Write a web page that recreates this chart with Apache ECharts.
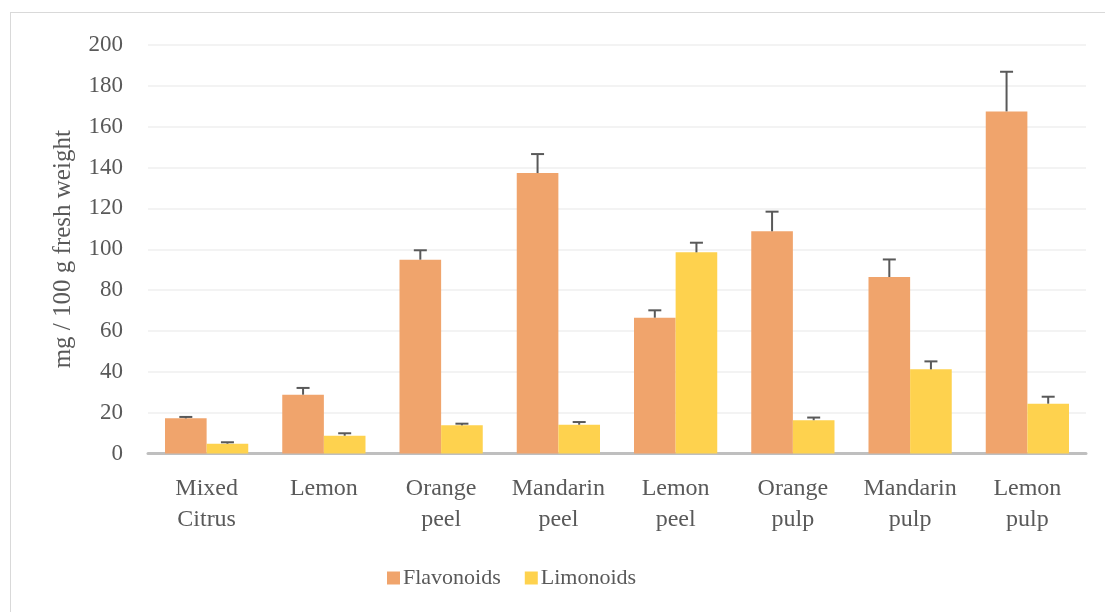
<!DOCTYPE html>
<html>
<head>
<meta charset="utf-8">
<script src="https://cdn.jsdelivr.net/npm/echarts@6/dist/echarts.min.js"></script>
<style>
html,body{margin:0;padding:0;background:#fff;}
#frame{position:absolute;left:10px;top:12px;width:1200px;height:700px;border:1.5px solid #d9d9d9;box-sizing:border-box;}
#chart{position:absolute;left:0;top:0;width:1105px;height:612px;}
</style>
</head>
<body>
<div id="frame"></div>
<div id="chart"></div>
<script>
const categories = ['Mixed\nCitrus','Lemon','Orange\npeel','Mandarin\npeel','Lemon\npeel','Orange\npulp','Mandarin\npulp','Lemon\npulp'];
const flavonoids = [17.2, 28.8, 94.9, 137.3, 66.5, 108.8, 86.4, 167.5];
const flavonoidsErr = [0.7, 3.3, 4.6, 9.3, 3.6, 9.6, 8.6, 19.4];
const limonoids = [4.8, 8.7, 13.8, 14.1, 98.5, 16.3, 41.2, 24.4];
const limonoidsErr = [0.7, 1.2, 0.8, 1.3, 4.7, 1.3, 3.9, 3.4];
const yTicks = [0, 20, 40, 60, 80, 100, 120, 140, 160, 180, 200];

const FONT = 'Liberation Serif';
const TXT = '#595959';
const catGapPct = 0.29;

function errSeries(values, errs, side) {
  return {
    type: 'custom',
    name: side < 0 ? 'errF' : 'errL',
    silent: true,
    z: 10,
    data: values.map((v, i) => [i, v, v + errs[i]]),
    renderItem: function (params, api) {
      const i = api.value(0);
      const catW = api.size([1, 0])[0];
      const barW = catW * (1 - catGapPct) / 2;
      const base = api.coord([i, api.value(1)]);
      const top = api.coord([i, api.value(2)]);
      const x = base[0] + side * barW / 2;
      const cap = 6.5;
      const st = { stroke: '#595959', lineWidth: 2 };
      return {
        type: 'group',
        children: [
          { type: 'line', shape: { x1: x, y1: base[1], x2: x, y2: top[1] }, style: st },
          { type: 'line', shape: { x1: x - cap, y1: top[1], x2: x + cap, y2: top[1] }, style: st }
        ]
      };
    }
  };
}

const chart = echarts.init(document.getElementById('chart'), null, { renderer: 'canvas' });
chart.setOption({
  animation: false,
  backgroundColor: 'transparent',
  textStyle: { fontFamily: FONT, color: TXT },
  grid: { left: 148, right: 19, top: 45, bottom: 158.5 },
  legend: {
    data: ['Flavonoids', 'Limonoids'],
    left: 382, top: 562,
    itemWidth: 13, itemHeight: 13, itemGap: 24,
    icon: 'rect',
    textStyle: { fontFamily: FONT, fontSize: 22, color: TXT, padding: [0, 0, 0, -2] }
  },
  xAxis: {
    type: 'category',
    data: categories,
    axisLine: { lineStyle: { color: '#bfbfbf', width: 3 } },
    axisTick: { show: false },
    axisLabel: { fontFamily: FONT, fontSize: 24, color: TXT, lineHeight: 31, margin: 20, interval: 0 }
  },
  yAxis: {
    type: 'value',
    min: 0, max: 200, interval: 20,
    name: 'mg / 100 g fresh weight',
    nameLocation: 'middle',
    nameGap: 72,
    nameTextStyle: { fontFamily: FONT, fontSize: 25, color: TXT },
    axisLine: { show: false },
    axisTick: { show: false },
    axisLabel: {
      fontFamily: FONT, fontSize: 23, color: TXT, margin: 25,
      formatter: v => yTicks.includes(v) ? String(v) : ''
    },
    splitLine: { lineStyle: { color: '#efefef', width: 1.5 } }
  },
  series: [
    {
      name: 'Flavonoids', type: 'bar', data: flavonoids,
      barGap: '0%', barCategoryGap: (catGapPct * 100) + '%',
      itemStyle: { color: '#f0a46c' }
    },
    {
      name: 'Limonoids', type: 'bar', data: limonoids,
      barGap: '0%', barCategoryGap: (catGapPct * 100) + '%',
      itemStyle: { color: '#fed24e' }
    },
    errSeries(flavonoids, flavonoidsErr, -1),
    errSeries(limonoids, limonoidsErr, 1)
  ]
});
</script>
</body>
</html>
